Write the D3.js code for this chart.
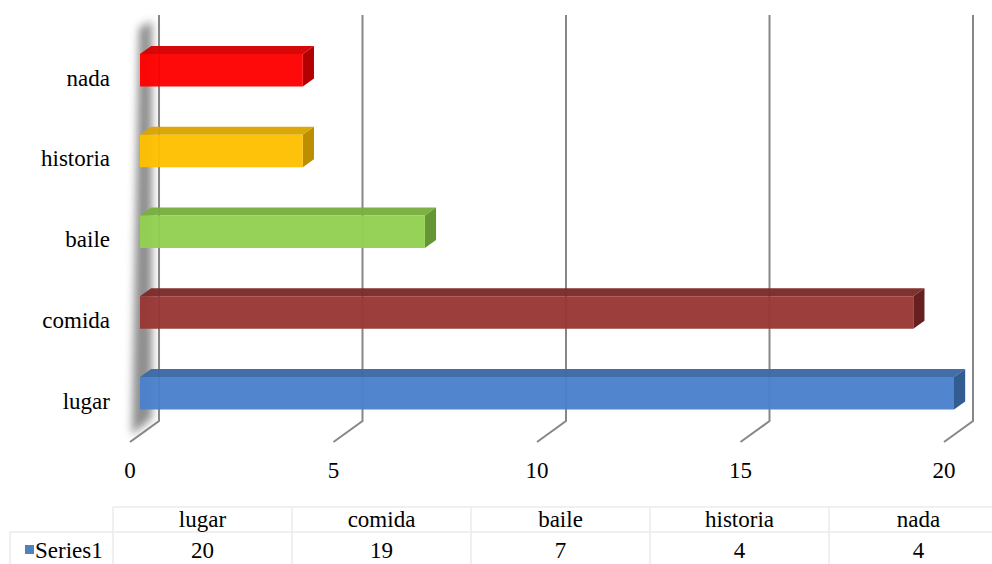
<!DOCTYPE html>
<html>
<head>
<meta charset="utf-8">
<script src="https://cdn.jsdelivr.net/npm/d3@7"></script>
<style>
  body { margin: 0; background: #fff; }
</style>
</head>
<body>
<div id="chart"></div>
<script>
// data
var categories = ["nada", "historia", "baile", "comida", "lugar"];
var values = [4, 4, 7, 19, 20];
var tableOrder = ["lugar", "comida", "baile", "historia", "nada"];
var tableValues = [20, 19, 7, 4, 4];
var ticks = [0, 5, 10, 15, 20];
var seriesName = "Series1";

// face colours per category: front, top, side
var colors = {
  nada:     ["#ff0000", "#d60000", "#b30000"],
  historia: ["#ffc000", "#dba400", "#bd8e00"],
  baile:    ["#92d050", "#79ae40", "#669535"],
  comida:   ["#973634", "#7d2a28", "#65201f"],
  lugar:    ["#4a80cb", "#3d6aa5", "#335c92"]
};

var W = 992, H = 564;
var depthX = -29, depthY = 21;   // back wall -> front plane offset
var dFront = 0.345, dBack = 0.73; // bar position in depth (0 = front, 1 = back)

var svg = d3.select("#chart").append("svg")
    .attr("width", W)
    .attr("height", H)
    .attr("font-family", "'Liberation Serif', 'Times New Roman', serif");

var defs = svg.append("defs");
defs.append("filter").attr("id", "blur")
    .attr("x", "-50%").attr("y", "-10%").attr("width", "200%").attr("height", "120%")
  .append("feGaussianBlur").attr("stdDeviation", 4);

var x = d3.scaleLinear().domain([0, 20]).range([159, 973]);
var y = d3.scaleBand().domain(categories).range([15, 421])
    .paddingInner(0.5975).paddingOuter(0.3128);

// project a point (value, back-wall y, depth) to the screen
function proj(v, yb, d) {
  return [x(v) + depthX * (1 - d), yb + depthY * (1 - d)];
}

// gridlines on the back wall, running down onto the floor
var grid = svg.append("g");
grid.selectAll("path")
  .data(ticks)
  .enter().append("path")
    .attr("d", function(t) {
      var p = proj(t, 421, 0);
      return "M" + x(t) + ",15L" + x(t) + ",421L" + p[0] + "," + p[1];
    })
    .attr("fill", "none")
    .attr("stroke", "#878787")
    .attr("stroke-width", 2);

// soft shadow along the side wall
svg.append("polygon")
    .attr("points", [[139, 28], [152, 21], [152, 418], [132, 435]].join(" "))
    .attr("fill", "#4a4a4a")
    .attr("opacity", 0.62)
    .attr("filter", "url(#blur)");

// bars
var bars = svg.selectAll(".bar")
  .data(categories.map(function(c, i) { return {cat: c, val: values[i]}; }))
  .enter().append("g")
    .attr("class", "bar");

function poly(pts) { return pts.map(function(p) { return p.join(","); }).join(" "); }

bars.append("polygon") // top
    .attr("points", function(d) {
      var y0 = y(d.cat);
      return poly([proj(0, y0, dFront), proj(d.val, y0, dFront), proj(d.val, y0, dBack), proj(0, y0, dBack)]);
    })
    .attr("fill", function(d) { return colors[d.cat][1]; })
    .attr("fill-opacity", 0.97);

bars.append("polygon") // right end
    .attr("points", function(d) {
      var y0 = y(d.cat), y1 = y0 + y.bandwidth();
      return poly([proj(d.val, y0, dFront), proj(d.val, y0, dBack), proj(d.val, y1, dBack), proj(d.val, y1, dFront)]);
    })
    .attr("fill", function(d) { return colors[d.cat][2]; });

bars.append("polygon") // front
    .attr("points", function(d) {
      var y0 = y(d.cat), y1 = y0 + y.bandwidth();
      return poly([proj(0, y0, dFront), proj(d.val, y0, dFront), proj(d.val, y1, dFront), proj(0, y1, dFront)]);
    })
    .attr("fill", function(d) { return colors[d.cat][0]; })
    .attr("fill-opacity", 0.96);

// category labels
svg.append("g").selectAll("text")
  .data(categories)
  .enter().append("text")
    .attr("x", 110)
    .attr("y", function(c) { return y(c) + y.bandwidth() / 2 + depthY; })
    .attr("dy", "0.35em")
    .attr("text-anchor", "end")
    .style("font-size", "23px")
    .text(function(c) { return c; });

// value axis labels
svg.append("g").selectAll("text")
  .data(ticks)
  .enter().append("text")
    .attr("x", function(t) { return x(t) + depthX; })
    .attr("y", 470)
    .attr("dy", "0.35em")
    .attr("text-anchor", "middle")
    .style("font-size", "23px")
    .text(function(t) { return t; });

// data table
var colW = 179, tx0 = 113, tTop = 507, tMid = 532, tBot = 570;
var col = d3.scaleBand().domain(tableOrder).range([tx0, tx0 + colW * tableOrder.length]);
var tbl = svg.append("g").attr("stroke", "#ebebeb").attr("stroke-width", 1.5);
tbl.append("line").attr("x1", tx0).attr("x2", W + 10).attr("y1", tTop).attr("y2", tTop);
tbl.append("line").attr("x1", 10).attr("x2", W + 10).attr("y1", tMid).attr("y2", tMid);
tbl.append("line").attr("x1", 10).attr("x2", 10).attr("y1", tMid).attr("y2", tBot);
tbl.selectAll(".vl")
  .data(tableOrder)
  .enter().append("line")
    .attr("x1", function(c) { return col(c); })
    .attr("x2", function(c) { return col(c); })
    .attr("y1", tTop).attr("y2", tBot);

svg.append("g").selectAll("text")
  .data(tableOrder)
  .enter().append("text")
    .attr("x", function(c) { return col(c) + col.bandwidth() / 2; })
    .attr("y", 527)
    .attr("text-anchor", "middle")
    .style("font-size", "23px")
    .text(function(c) { return c; });

svg.append("g").selectAll("text")
  .data(tableValues)
  .enter().append("text")
    .attr("x", function(v, i) { return col(tableOrder[i]) + col.bandwidth() / 2; })
    .attr("y", 558)
    .attr("text-anchor", "middle")
    .style("font-size", "23px")
    .text(function(v) { return v; });

svg.append("rect")
    .attr("x", 25).attr("y", 545)
    .attr("width", 9).attr("height", 9)
    .attr("fill", "#4f81bd");
svg.append("text")
    .attr("x", 35).attr("y", 558)
    .style("font-size", "23px")
    .text(seriesName);
</script>
</body>
</html>
